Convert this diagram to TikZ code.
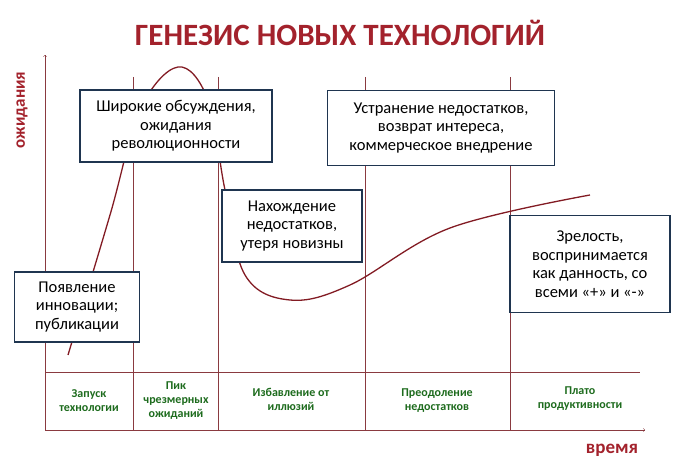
\documentclass[tikz,border=0pt]{standalone}
\usepackage{fontspec}
\setmainfont{Carlito}
\definecolor{titlered}{HTML}{A3222C}
\definecolor{boxnavy}{HTML}{1F3550}
\definecolor{phasegreen}{HTML}{1D6B1D}
\definecolor{gridred}{HTML}{8A3A40}
\begin{document}
\begin{tikzpicture}[x=1pt,y=-1pt]
\tikzset{note/.style={draw=boxnavy, line width=1.6pt, fill=white, align=center, font=\fontsize{16.5}{18.5}\selectfont, inner sep=4pt},
  phase/.style={text=phasegreen, align=center, font=\bfseries\fontsize{12}{14}\selectfont}}
\useasboundingbox (0,0) rectangle (689,462);
\node[text=titlered, font=\bfseries\fontsize{31}{32}\selectfont] (title) at (340,33) {ГЕНЕЗИС НОВЫХ ТЕХНОЛОГИЙ};

% axes and grid
\coordinate (o) at (45,430);
\coordinate (ytop) at (45,55);
\coordinate (xend) at (645,430);
\draw[gridred, ->] (o) -- (ytop);
\draw[gridred, ->] (o) -- (xend);
\draw[gridred] (45,372) -- (640,372);
\foreach \x in {133,218,365,510}
  \draw[gridred] (\x,77) -- (\x,430);
\node[rotate=90, text=titlered, font=\bfseries\fontsize{17}{19}\selectfont] (ylab) at (22,110) {ожидания};
\node[text=titlered, font=\bfseries\fontsize{19}{21}\selectfont] (xlab) at (612,450) {время};

% curve
\draw[titlered!80!black, line width=1.3pt] plot[smooth, tension=0.6] coordinates
  {(68,355) (110,215) (140,110) (178,67) (208,100) (225,190) (245,275) (290,300) (350,285) (450,228) (590,195)};

% notes
\node[note, minimum width=125pt, minimum height=70pt] (launch) at (77,307) {Появление\\инновации;\\публикации};
\node[note, minimum width=192pt, minimum height=72pt] (peak) at (176,126) {Широкие обсуждения,\\ожидания\\революционности};
\node[note, minimum width=140pt, minimum height=72pt] (trough) at (292,226) {Нахождение\\недостатков,\\утеря новизны};
\node[note, minimum width=227pt, minimum height=75pt] (slope) at (441,128) {Устранение недостатков,\\возврат интереса,\\коммерческое внедрение};
\node[note, minimum width=160pt, minimum height=97pt] (plateau) at (590,264) {Зрелость,\\воспринимается\\как данность, со\\всеми «+» и «-»};

% phases
\node[phase] (p1) at (89,401) {Запуск\\технологии};
\node[phase] (p2) at (176,401) {Пик\\чрезмерных\\ожиданий};
\node[phase] (p3) at (291,399) {Избавление от\\иллюзий};
\node[phase] (p4) at (437,401) {Преодоление\\недостатков};
\node[phase] (p5) at (580,399) {Плато\\продуктивности};
\end{tikzpicture}
\end{document}
